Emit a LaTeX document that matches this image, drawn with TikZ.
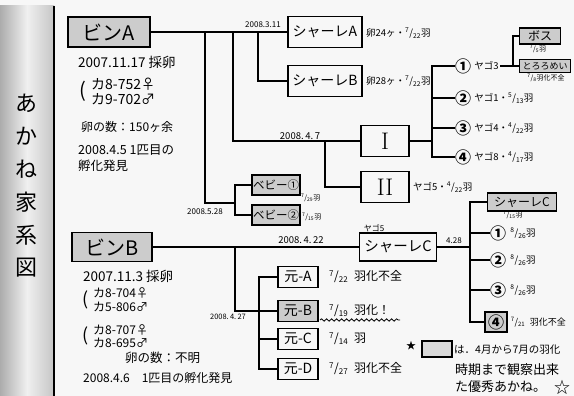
\documentclass[tikz,border=0pt]{standalone}
\usepackage{fontspec}
\setmainfont{Noto Sans CJK JP}
\usetikzlibrary{decorations.pathmorphing}
\newcommand{\hfr}[2]{\textsuperscript{#1}/\textsubscript{#2}}
\newcommand{\romn}[1]{{\fontfamily{lmr}\selectfont #1}}
\tikzset{
  box/.style={draw,line width=1.1pt,inner sep=1pt},
  gbox/.style={box,fill=gray!40},
  wire/.style={line width=1.1pt},
  txt/.style={font=\fontsize{11.5}{14}\selectfont,inner sep=1pt,anchor=west},
  note/.style={font=\fontsize{9.5}{10}\selectfont,inner sep=1pt},
  wee/.style={font=\fontsize{7}{8}\selectfont,inner sep=1pt},
  circ/.style={font=\fontsize{16}{16}\bfseries\selectfont,inner sep=0pt}
}

\begin{document}
\begin{tikzpicture}[x=1pt,y=-1pt]
  \useasboundingbox (0,0) rectangle (574,396);
  \fill[black!3] (0,0) rectangle (574,396);
  % ---- left strip with the title
  \shade[left color=gray!65,right color=gray!45,middle color=gray!12] (0,6) rectangle (54,396);
  \draw[line width=1.2pt] (54,6) -- (54,396);
  \foreach \ch [count=\i] in {あ,か,ね,家,系,図}
    \node[font=\fontsize{22}{22}\selectfont] (title\i) at (27,70+33*\i) {\ch};

  % ---- bin A and its notes
  \node[gbox,minimum width=82,minimum height=30,font=\fontsize{20}{20}\selectfont] (binA) at (109,32) {ビンA};
  \node[txt,font=\fontsize{13.5}{14}\selectfont] (dateA) at (77,62) {2007.11.17 採卵};
  \node[font=\fontsize{20}{20}\selectfont] (parA) at (83,91) {(};
  \node[txt,align=left,font=\fontsize{14}{15}\selectfont] (sexA) at (90,91) {カ8-752♀\\カ9-702♂};
  \node[txt,font=\fontsize{12}{14}\selectfont] (eggA) at (80,127) {卵の数：150ヶ余};
  \node[txt,align=left,anchor=north west,font=\fontsize{12.5}{16}\selectfont] (hatchA) at (77,144) {2008.4.5 1匹目の\\孵化発見};

  % ---- shale A, B
  \node[box,minimum width=74,minimum height=31,font=\fontsize{14}{14}\selectfont] (shA) at (325,32) {シャーレA};
  \node[box,minimum width=74,minimum height=31,font=\fontsize{14}{14}\selectfont] (shB) at (325,81) {シャーレB};
  \node[note,anchor=west] (eggsA) at (365,33) {卵24ヶ・\hfr{7}{22}羽};
  \node[note,anchor=west] (eggsB) at (365,81) {卵28ヶ・\hfr{7}{22}羽};
  \coordinate (jA) at (205,32);
  \coordinate (jI) at (233,32);
  \coordinate (jS) at (258,32);
  \draw[wire] (binA.east) -- (shA.west);
  \draw[wire] (jS) |- (shB.west);
  \node[note,font=\fontsize{8}{9}\selectfont] (d311) at (263,25) {2008.3.11};

  % ---- I and II
  \node[box,minimum width=48,minimum height=31,font=\fontsize{24}{24}\selectfont] (rI) at (385,141) {\romn{I}};
  \node[box,minimum width=48,minimum height=31,font=\fontsize{24}{24}\selectfont] (rII) at (385,187) {\romn{II}};
  \node[note] (d47) at (300,136) {2008.\,4.\,7};
  \coordinate (kII) at (325,141);
  \draw[wire] (jI) |- (rI.west);
  \draw[wire] (kII) |- (rII.west);
  \node[note,anchor=west] (y5) at (412,187) {ヤゴ5・\hfr{4}{22}羽};

  \coordinate (kI) at (432,141);
  \node[circ] (c1) at (463,66) {①};
  \node[circ] (c2) at (463,98) {②};
  \node[circ] (c3) at (463,128) {③};
  \node[circ] (c4) at (463,157) {④};
  \draw[wire] (rI.east) -- (kI);
  \draw[wire] (c1.west) -| (kI) |- (c4.west);
  \draw[wire] (c2.west) -- (c2.west -| kI);
  \draw[wire] (c3.west) -- (c3.west -| kI);
  \node[note,anchor=west] (y3) at ([xshift=2]c1.east) {ヤゴ3};
  \node[note,anchor=west] (y1) at ([xshift=2]c2.east) {ヤゴ1・\hfr{5}{13}羽};
  \node[note,anchor=west] (y4) at ([xshift=2]c3.east) {ヤゴ4・\hfr{4}{22}羽};
  \node[note,anchor=west] (y8) at ([xshift=2]c4.east) {ヤゴ8・\hfr{4}{17}羽};

  \node[gbox,minimum width=41,minimum height=16,font=\fontsize{12}{12}\selectfont] (boss) at (540,36) {ボス};
  \node[gbox,minimum width=51,minimum height=13,font=\fontsize{9}{9}\selectfont] (toro) at (545,66) {とろろめい};
  \node[wee] (bossd) at (538,49) {\hfr{7}{5}羽};
  \node[wee] (torod) at (546,78) {\hfr{7}{8}羽化不全};
  \coordinate (k3) at (513,66);
  \draw[wire] (y3.east) -- (k3);
  \draw[wire] (boss.west) -| (k3) -- (toro.west);

  % ---- babies
  \coordinate (kB) at (235,203);
  \node[gbox,minimum width=48,minimum height=20,font=\fontsize{11.5}{12}\selectfont] (bb1) at (276,185) {ベビー①};
  \node[gbox,minimum width=48,minimum height=20,font=\fontsize{11.5}{12}\selectfont] (bb2) at (276,215) {ベビー②};
  \draw[wire] (jA) |- (kB);
  \draw[wire] (bb1.west) -| (kB) |- (bb2.west);
  \node[wee,anchor=west] (bb1d) at (300,198) {\hfr{7}{29}羽};
  \node[wee,anchor=west] (bb2d) at (301,217) {\hfr{7}{15}羽};
  \node[wee,font=\fontsize{8}{9}\selectfont] (d528) at (205,212) {2008.5.28};

  % ---- bin B and its notes
  \node[gbox,minimum width=80,minimum height=29,font=\fontsize{20}{20}\selectfont] (binB) at (112,247) {ビンB};
  \node[txt,font=\fontsize{13.5}{14}\selectfont] (dateB) at (82,276) {2007.11.3 採卵};
  \node[font=\fontsize{18}{18}\selectfont] (parB1) at (86,300) {(};
  \node[txt,align=left,font=\fontsize{12}{14}\selectfont] (sexB1) at (92,300) {カ8-704♀\\カ5-806♂};
  \node[font=\fontsize{18}{18}\selectfont] (parB2) at (86,336) {(};
  \node[txt,align=left,font=\fontsize{12}{13}\selectfont] (sexB2) at (92,336) {カ8-707♀\\カ8-695♂};
  \node[txt,font=\fontsize{12.5}{14}\selectfont] (eggB) at (124,358) {卵の数：不明};
  \node[txt,font=\fontsize{12}{12}\selectfont] (hatchB) at (82,378) {2008.4.6\quad 1匹目の孵化発見};

  % ---- shale C and the four Gen
  \node[box,minimum width=77,minimum height=28,font=\fontsize{14.5}{15}\selectfont] (shC) at (398,247) {シャーレC};
  \node[wee,font=\fontsize{8}{9}\selectfont] (y5c) at (374,228) {ヤゴ5};
  \draw[wire] (binB.east) -- (shC.west);
  \node[note] (d422) at (301,240) {2008.\,4.\,22};
  \coordinate (jC) at (235,247);
  \coordinate (kG) at (259,311);
  \node[box,minimum width=40,minimum height=21,font=\fontsize{14}{14}\selectfont] (gA) at (298,277) {元-A};
  \node[gbox,minimum width=40,minimum height=21,font=\fontsize{14}{14}\selectfont] (gB) at (298,311) {元-B};
  \node[box,minimum width=40,minimum height=21,font=\fontsize{14}{14}\selectfont] (gC) at (298,339) {元-C};
  \node[box,minimum width=40,minimum height=21,font=\fontsize{14}{14}\selectfont] (gD) at (298,369) {元-D};
  \draw[wire] (jC) |- (gB.west);
  \draw[wire] (gA.west) -| (kG) |- (gD.west);
  \draw[wire] (gC.west) -- (gC.west -| kG);
  \node[wee,font=\fontsize{7.5}{8}\selectfont] (d427) at (228,317) {2008.\,4.\,27};
  \node[txt,font=\fontsize{12}{12}\selectfont] (gAd) at (328,277) {\hfr{7}{22}\enspace 羽化不全};
  \node[txt,font=\fontsize{12}{12}\selectfont] (gBd) at (328,311) {\hfr{7}{19}\enspace 羽化！};
  \node[txt,font=\fontsize{12}{12}\selectfont] (gCd) at (328,339) {\hfr{7}{14}\enspace 羽};
  \node[txt,font=\fontsize{12}{12}\selectfont] (gDd) at (328,369) {\hfr{7}{27}\enspace 羽化不全};
  \draw[decorate,decoration={snake,amplitude=1.2pt,segment length=5pt},line width=0.8pt] (320,320) -- (400,320);

  % ---- children of shale C
  \coordinate (kC) at (470,247);
  \draw[wire] (shC.east) -- (kC);
  \node[wee,font=\fontsize{8}{9}\selectfont] (d428) at (454,241) {4.28};
  \node[gbox,minimum width=69,minimum height=18,font=\fontsize{12}{12}\selectfont] (shC2) at (522,202) {シャーレC};
  \node[wee] (shC2d) at (513,215) {\hfr{7}{15}羽};
  \node[circ] (e1) at (498,233) {①};
  \node[circ] (e2) at (498,260) {②};
  \node[circ] (e3) at (498,290) {③};
  \node[gbox,circ,minimum width=22,minimum height=20] (e4) at (496,322) {④};
  \draw[wire] (shC2.west) -| (kC) |- (e4.west);
  \draw[wire] (e1.west) -- (e1.west -| kC);
  \draw[wire] (e2.west) -- (e2.west -| kC);
  \draw[wire] (e3.west) -- (e3.west -| kC);
  \node[note,anchor=west] (e1d) at ([xshift=3]e1.east) {\hfr{8}{26}羽};
  \node[note,anchor=west] (e2d) at ([xshift=3]e2.east) {\hfr{8}{26}羽};
  \node[note,anchor=west] (e3d) at ([xshift=3]e3.east) {\hfr{8}{26}羽};
  \node[note,anchor=west,font=\fontsize{9}{9}\selectfont] (e4d) at ([xshift=2]e4.east) {\hfr{7}{21}\enspace 羽化不全};

  % ---- legend
  \node[font=\fontsize{10}{10}\selectfont] (star) at (411,346) {★};
  \node[box,fill=gray!30,minimum width=30,minimum height=16] (leg) at (437,349) {};
  \node[txt,font=\fontsize{10.5}{12}\selectfont] (leg1) at (453,350) {は．4月から7月の羽化};
  \node[txt,font=\fontsize{13}{13}\selectfont] (leg2) at (454,370) {時期まで観察出来};
  \node[txt,font=\fontsize{13}{13}\selectfont] (leg3) at (454,387) {た優秀あかね。};
  \node[font=\fontsize{16}{16}\selectfont] (star2) at (562,387) {☆};
\end{tikzpicture}
\end{document}
